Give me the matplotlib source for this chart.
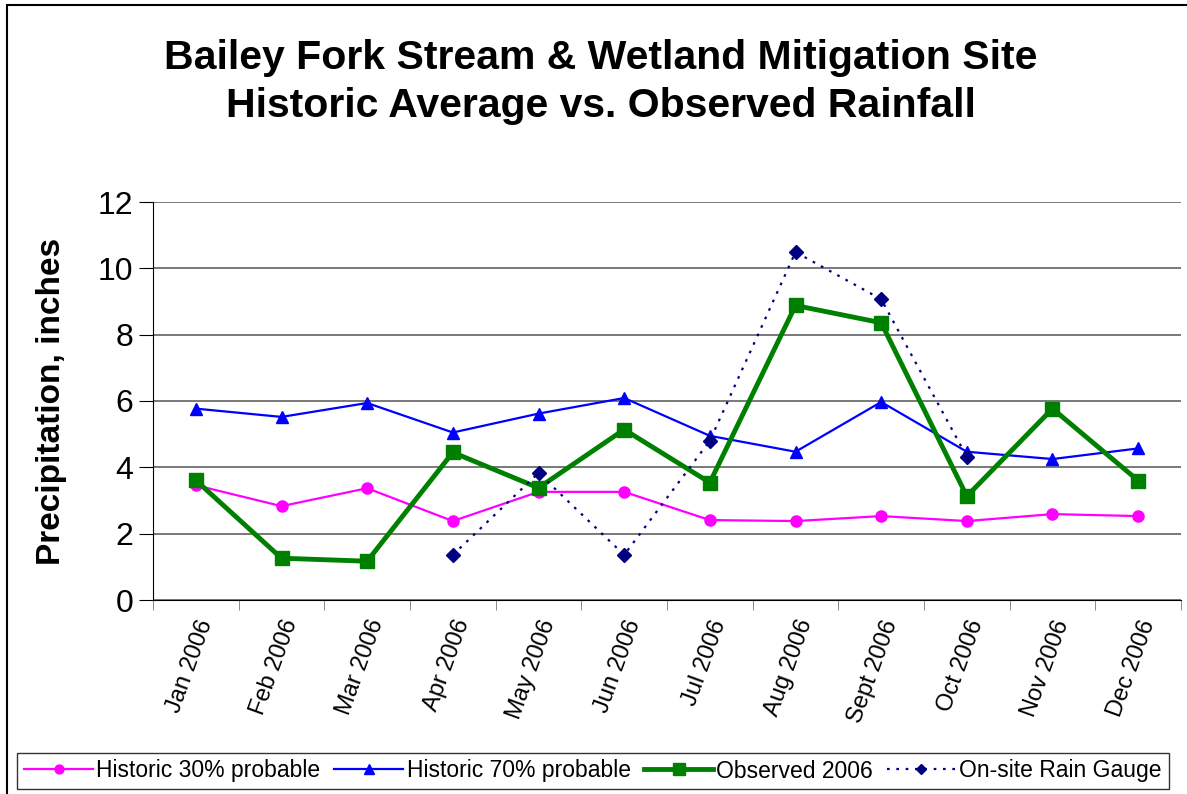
import numpy as np
import matplotlib
matplotlib.use('Agg')
import matplotlib.pyplot as plt
from matplotlib.patches import Rectangle

plt.rcParams['font.family'] = ['Liberation Sans', 'DejaVu Sans']

# datos
meses = ['Jan 2006', 'Feb 2006', 'Mar 2006', 'Apr 2006', 'May 2006', 'Jun 2006',
         'Jul 2006', 'Aug 2006', 'Sept 2006', 'Oct 2006', 'Nov 2006', 'Dec 2006']
hist_30 = [3.46, 2.83, 3.37, 2.38, 3.26, 3.26, 2.41, 2.38, 2.53, 2.38, 2.59, 2.53]
hist_70 = [5.77, 5.52, 5.94, 5.05, 5.62, 6.09, 4.95, 4.47, 5.97, 4.47, 4.25, 4.57]
observado = [3.61, 1.26, 1.17, 4.45, 3.38, 5.14, 3.54, 8.88, 8.36, 3.13, 5.77, 3.60]
pluviometro = [np.nan, np.nan, np.nan, 1.36, 3.83, 1.36, 4.80, 10.49, 9.07, 4.32, np.nan, np.nan]

x = np.arange(len(meses))

fig = plt.figure(figsize=(11.87, 7.94), dpi=100)
ax = fig.add_axes([153/1187, 1 - 600/794, (1181 - 153)/1187, (600 - 202)/794])

ax.plot(x, hist_30, color='#FF00FF', lw=1.6, marker='o', ms=8, label='Historic 30% probable')
ax.plot(x, hist_70, color='#0000FF', lw=1.6, marker='^', ms=9, label='Historic 70% probable')
ax.plot(x, observado, color='#008000', lw=3.5, marker='s', ms=10, label='Observed 2006')
ax.plot(x, pluviometro, color='#000080', lw=1.6, ls=(0, (1.2, 3)), marker='D', ms=7,
        label='On-site Rain Gauge')

ax.set_ylim(0, 12)
ax.set_xlim(-0.5, 11.5)
ax.set_yticks(range(0, 13, 2))
ax.yaxis.grid(True, color='#555555', lw=1.1)
ax.set_axisbelow(True)

ax.set_xticks(x)
ax.set_xticklabels(meses, rotation=70, ha='right', va='top', rotation_mode='anchor', fontsize=17)
ax.set_xticks(np.arange(-0.5, 12, 1), minor=True)
ax.tick_params(axis='x', which='major', length=0, pad=12)
ax.tick_params(axis='x', which='minor', length=7, direction='out', color='#777777')
ax.tick_params(axis='y', length=10, direction='out', labelsize=23, pad=4)

for s in ['top', 'right']:
    ax.spines[s].set_visible(False)
ax.spines['left'].set_color('black')
ax.spines['bottom'].set_color('black')

ax.set_ylabel('Precipitation, inches', fontsize=24, fontweight='bold', labelpad=22)

fig.text(0.506, 1 - 58/794, 'Bailey Fork Stream & Wetland Mitigation Site', ha='center',
         va='center', fontsize=29.5, fontweight='bold')
fig.text(0.506, 1 - 106/794, 'Historic Average vs. Observed Rainfall', ha='center',
         va='center', fontsize=29.5, fontweight='bold')

leg = fig.legend(loc='center', bbox_to_anchor=(593/1187, 1 - 771/794),
                 ncol=4, fontsize=16.5, frameon=True, fancybox=False,
                 numpoints=1, handlelength=3.0, handletextpad=0.15, columnspacing=0.6,
                 borderpad=0.3, borderaxespad=0, markerscale=0.8)
leg.get_frame().set_edgecolor('black')
leg.get_frame().set_linewidth(1.0)

# borde exterior
fig.patches.append(Rectangle((7/1187, -0.05), 1.2, 1 - 5/794 + 0.05, transform=fig.transFigure,
                             fill=False, edgecolor='black', lw=1.5))

fig.savefig('out.png', dpi=100)
